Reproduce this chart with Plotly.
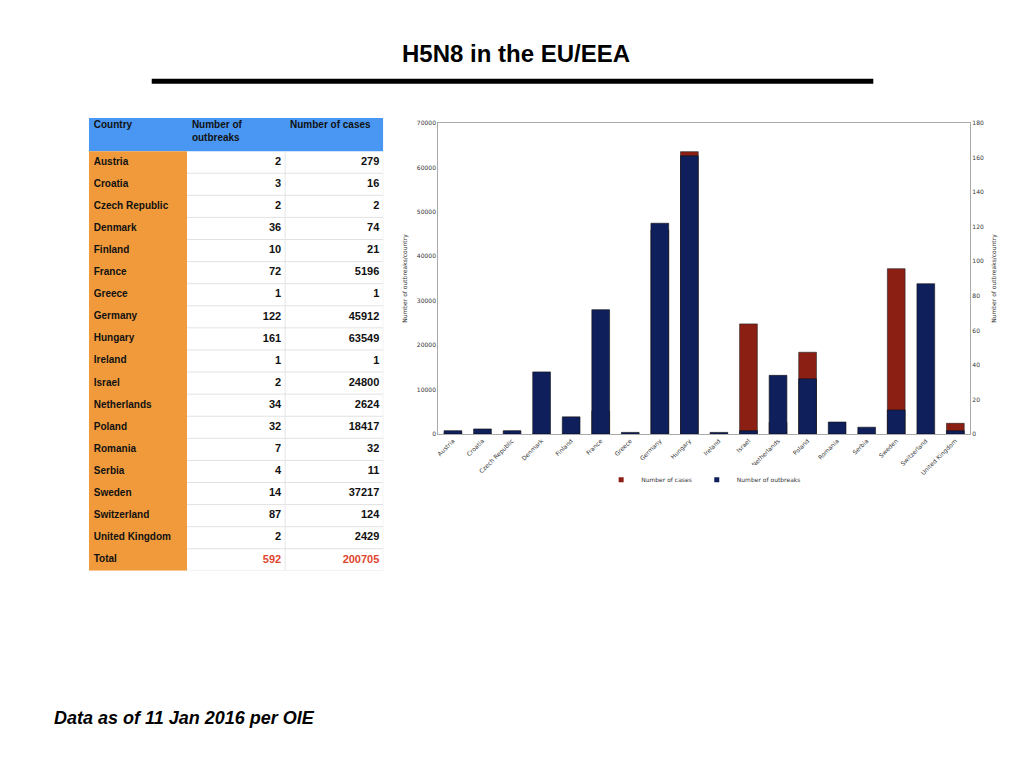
import plotly.graph_objects as go

# =========================================
# DATOS
# =========================================

countries = ["Austria", "Croatia", "Czech Republic", "Denmark", "Finland", "France",
             "Greece", "Germany", "Hungary", "Ireland", "Israel", "Netherlands",
             "Poland", "Romania", "Serbia", "Sweden", "Switzerland", "United Kingdom"]
outbreaks = [2, 3, 2, 36, 10, 72, 1, 122, 161, 1, 2, 34, 32, 7, 4, 14, 87, 2]
cases = [279, 16, 2, 74, 21, 5196, 1, 45912, 63549, 1, 24800, 2624, 18417, 32, 11,
         37217, 124, 2429]
total_outbreaks = 592
total_cases = 200705
headers = ["Country", "Number of<br>outbreaks", "Number of cases"]

NAVY = "#0e1f5b"
RED = "#8c1f14"
ORANGE = "#f09a3c"
BLUE = "#4997f3"
FONT = "Liberation Sans, Arial, sans-serif"

# la pagina html tiene un margen de 8px en el body
OFF = 8


def px_x(p):
    return (p - OFF) / 1024


def px_y(p):
    return 1 - (p - OFF) / 768


fig = go.Figure()

# =========================================
# TABLA (ejes propios x3 / y3)
# =========================================

col_country = countries + ["Total"]
col_out = [str(v) for v in outbreaks] + [str(total_outbreaks)]
col_cases = [str(v) for v in cases] + [str(total_cases)]
n = len(col_country)
rows = list(range(n))
row_mid = [r + 0.5 for r in rows]
txt_colors = ["#111111"] * (n - 1) + ["#e0452f"]

shapes = [
    dict(type="rect", xref="x3", yref="y3", x0=0, x1=3, y0=-1.5, y1=0,
         fillcolor=BLUE, line=dict(width=0), layer="below"),
    dict(type="rect", xref="x3", yref="y3", x0=0, x1=1, y0=0, y1=n,
         fillcolor=ORANGE, line=dict(width=0), layer="below"),
]
for r in rows[1:]:
    shapes.append(dict(type="line", xref="x3", yref="y3", x0=1, x1=3, y0=r, y1=r,
                       line=dict(color="#e2e2e2", width=1), layer="below"))
shapes.append(dict(type="line", xref="x3", yref="y3", x0=2, x1=2, y0=0, y1=n,
                   line=dict(color="#e6e6e6", width=1), layer="below"))
shapes.append(dict(type="line", xref="x3", yref="y3", x0=3, x1=3, y0=0, y1=n,
                   line=dict(color="#e6e6e6", width=1), layer="below"))
shapes.append(dict(type="line", xref="x3", yref="y3", x0=1, x1=3, y0=n, y1=n,
                   line=dict(color="#e6e6e6", width=1), layer="below"))

fig.add_trace(go.Scatter(
    x=[0.05, 1.05, 2.05], y=[-1.38] * 3, text=headers, mode="text",
    textposition="bottom right", xaxis="x3", yaxis="y3", showlegend=False,
    hoverinfo="skip",
    textfont=dict(family=FONT, size=10, color="#111111", weight="bold"),
))
fig.add_trace(go.Scatter(
    x=[0.05] * n, y=row_mid, text=col_country, mode="text",
    textposition="middle right", xaxis="x3", yaxis="y3", showlegend=False,
    hoverinfo="skip",
    textfont=dict(family=FONT, size=10, color="#111111", weight="bold"),
))
fig.add_trace(go.Scatter(
    x=[1.96] * n, y=row_mid, text=col_out, mode="text",
    textposition="middle left", xaxis="x3", yaxis="y3", showlegend=False,
    hoverinfo="skip",
    textfont=dict(family=FONT, size=11, color=txt_colors, weight="bold"),
))
fig.add_trace(go.Scatter(
    x=[2.96] * n, y=row_mid, text=col_cases, mode="text",
    textposition="middle left", xaxis="x3", yaxis="y3", showlegend=False,
    hoverinfo="skip",
    textfont=dict(family=FONT, size=11, color=txt_colors, weight="bold"),
))

# =========================================
# BARRAS
# =========================================

fig.add_trace(go.Bar(
    x=countries, y=cases, name="Number of cases", showlegend=False,
    marker=dict(color=RED, line=dict(color="#222222", width=0.6)),
    width=0.6, yaxis="y",
))
fig.add_trace(go.Bar(
    x=countries, y=outbreaks, name="Number of outbreaks", showlegend=False,
    marker=dict(color=NAVY, line=dict(color="#111111", width=0.6)),
    width=0.6, yaxis="y2",
))
# leyenda con cuadritos pequeños
fig.add_trace(go.Scatter(x=[None], y=[None], mode="markers", name="Number of cases",
                         marker=dict(symbol="square", size=5, color=RED)))
fig.add_trace(go.Scatter(x=[None], y=[None], mode="markers", name="Number of outbreaks",
                         marker=dict(symbol="square", size=5, color=NAVY)))

tick_font = dict(family="DejaVu Sans, sans-serif", size=6, color="#333333")

fig.update_layout(
    width=1024, height=768,
    margin=dict(l=0, r=0, t=0, b=0),
    paper_bgcolor="white", plot_bgcolor="white",
    barmode="overlay",
    font=dict(family=FONT),
    shapes=shapes,
    legend=dict(orientation="h", x=px_x(703), y=px_y(480), xanchor="center",
                yanchor="middle", font=tick_font, itemwidth=30, traceorder="normal",
                tracegroupgap=0),
    xaxis=dict(domain=[px_x(437), px_x(970)], anchor="y", tickangle=-45,
               tickfont=tick_font, showline=True, linecolor="#aaaaaa", mirror=True,
               ticks="", showgrid=False),
    yaxis=dict(domain=[px_y(434), px_y(120)], range=[0, 70000], dtick=10000,
               tickformat="d", tickfont=tick_font, showgrid=False, showline=True,
               linecolor="#aaaaaa", zeroline=False, ticks="",
               title=dict(text="Number of outbreaks/country", font=tick_font, standoff=8)),
    yaxis2=dict(overlaying="y", side="right", anchor="x", range=[0, 180], dtick=20,
                tickfont=tick_font, showgrid=False, showline=True, linecolor="#aaaaaa",
                zeroline=False, ticks="",
                title=dict(text="Number of outbreaks/country", font=tick_font, standoff=8)),
    xaxis3=dict(domain=[px_x(87), px_x(382)], range=[0, 3], visible=False,
                anchor="y3", fixedrange=True),
    yaxis3=dict(domain=[px_y(572), px_y(115)], range=[n, -1.5], visible=False,
                anchor="x3", fixedrange=True),
)

# =========================================
# TITULO, LINEA Y PIE
# =========================================

fig.add_annotation(text="<b>H5N8 in the EU/EEA</b>", x=px_x(515), y=px_y(50),
                   xref="paper", yref="paper", showarrow=False, yanchor="middle",
                   font=dict(family=FONT, size=24, color="black"))
fig.add_shape(type="line", xref="paper", yref="paper",
              x0=px_x(150), x1=px_x(873), y0=px_y(78), y1=px_y(78),
              line=dict(color="black", width=5))
fig.add_annotation(text="<b><i>Data as of 11 Jan 2016 per OIE</i></b>",
                   x=px_x(50), y=px_y(720), xref="paper", yref="paper",
                   xanchor="left", yanchor="middle", showarrow=False,
                   font=dict(family=FONT, size=18, color="black"))

fig.write_html("out.html")
